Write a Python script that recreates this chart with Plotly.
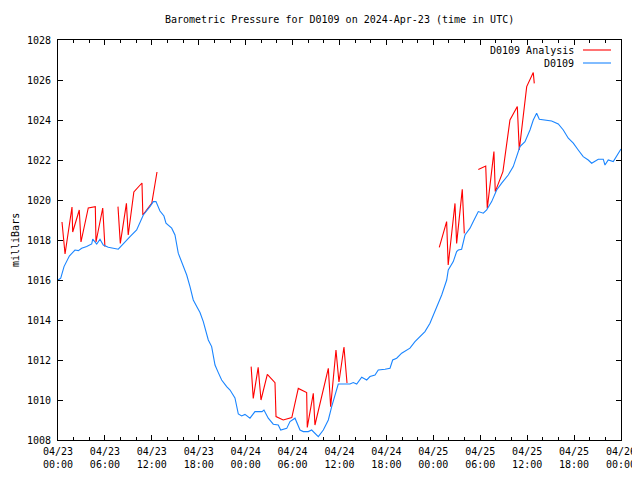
import datetime as dt
import plotly.graph_objects as go

title_text = "Barometric Pressure for D0109 on 2024-Apr-23 (time in UTC)"
y_label = "milliBars"
series_names = ["D0109 Analysis", "D0109"]
start_time = dt.datetime(2024, 4, 23, 0, 0)
end_time = dt.datetime(2024, 4, 26, 0, 0)
y_range = [1008, 1028]

# Observed pressure (hours since 2024-04-23 00:00 UTC, mbar)
obs_hours = [0.00, 0.35, 0.77, 1.45, 2.17, 2.60, 3.03, 3.67, 4.31, 4.44, 4.95, 5.37, 5.79,
             6.43, 7.71, 7.93, 9.21, 10.06, 10.91, 11.76, 12.19, 12.53, 13.04, 13.55, 13.81,
             14.54, 14.96, 15.38, 15.82, 16.46, 16.88, 17.30, 17.74, 18.16, 18.58, 19.22,
             19.65, 20.08, 20.50, 20.93, 21.57, 22.00, 22.63, 23.06, 23.49, 23.91, 24.55,
             25.19, 26.09, 26.34, 26.89, 27.53, 28.17, 28.48, 29.25, 29.67, 30.31, 30.73,
             30.95, 31.37, 32.01, 32.44, 33.29, 33.93, 34.57, 35.00, 35.55, 35.84, 37.34,
             37.76, 38.20, 38.84, 39.48, 39.90, 40.54, 40.96, 41.82, 42.46, 42.80, 43.31,
             43.95, 44.59, 45.01, 45.65, 46.29, 46.93, 47.57, 47.99, 48.43, 49.07, 49.71,
             49.91, 50.55, 50.98, 51.19, 51.62, 52.05, 52.69, 53.11, 53.75, 54.39, 54.82,
             55.46, 56.10, 56.74, 57.58, 58.22, 58.66, 59.08, 59.72, 60.36, 60.78, 61.21,
             61.55, 62.49, 63.13, 63.98, 64.62, 65.26, 65.90, 66.53, 67.17, 67.81, 68.25,
             69.09, 69.73, 69.95, 70.37, 71.01, 71.78, 72.00]
obs_mb = [1016.00, 1016.09, 1016.67, 1017.20, 1017.50, 1017.47, 1017.59, 1017.67, 1017.80,
          1018.04, 1017.80, 1018.04, 1017.75, 1017.64, 1017.54, 1017.64, 1018.17, 1018.50,
          1019.25, 1019.67, 1019.92, 1019.92, 1019.45, 1019.20, 1018.84, 1018.59, 1018.25,
          1017.34, 1016.92, 1016.25, 1015.67, 1015.00, 1014.67, 1014.37, 1013.92, 1013.00,
          1012.67, 1011.75, 1011.37, 1011.00, 1010.67, 1010.50, 1010.10, 1009.30, 1009.20,
          1009.28, 1009.09, 1009.42, 1009.42, 1009.50, 1009.09, 1008.79, 1008.75, 1008.50,
          1008.58, 1008.92, 1009.09, 1008.67, 1008.50, 1008.42, 1008.42, 1008.50, 1008.17,
          1008.50, 1009.00, 1009.67, 1010.34, 1010.80, 1010.80, 1010.87, 1010.80, 1011.14,
          1011.00, 1011.17, 1011.25, 1011.50, 1011.54, 1011.59, 1012.00, 1012.09, 1012.34,
          1012.47, 1012.59, 1012.92, 1013.17, 1013.42, 1013.84, 1014.25, 1014.67, 1015.25,
          1016.00, 1016.50, 1016.92, 1017.42, 1017.50, 1017.54, 1018.25, 1018.59, 1018.92,
          1019.42, 1019.34, 1019.50, 1019.92, 1020.50, 1020.84, 1021.25, 1021.67, 1022.17,
          1022.67, 1022.92, 1023.50, 1024.00, 1024.34, 1024.04, 1024.00, 1023.95, 1023.80,
          1023.50, 1023.09, 1022.84, 1022.50, 1022.17, 1022.00, 1021.84, 1022.04, 1022.04,
          1021.75, 1022.00, 1021.92, 1022.42, 1022.55]

# Analysis pressure (None = gap)
ana_hours = [0.51, 0.90, 1.79, 1.88, 2.72, 2.94, 3.87, 4.77, 4.86, 5.72, 6.00, None,
             7.67, 7.97, 8.75, 8.98, 9.70, 10.74, 10.85, 12.00, 12.66, None,
             24.70, 24.97, 25.60, 25.96, 26.77, 27.75, 27.88, 28.80, 29.90, 30.73, 31.80,
             31.88, 32.65, 32.86, 34.57, 34.87, 35.55, 35.93, 36.57, 36.96, None,
             48.76, 49.70, 49.90, 50.77, 50.98, 51.70, 51.96, None,
             53.75, 54.70, 54.90, 55.75, 55.92, 56.90, 57.80, 58.74, 58.99, 59.94, 60.78, 60.91]
ana_mb = [1018.90, 1017.30, 1019.65, 1018.40, 1019.50, 1017.90, 1019.60, 1019.67, 1017.90,
          1019.60, 1017.67, None,
          1019.67, 1017.83, 1019.83, 1018.25, 1020.40, 1020.85, 1019.25, 1019.85, 1021.40, None,
          1011.67, 1010.08, 1011.63, 1010.00, 1011.28, 1010.87, 1009.17, 1009.00, 1009.12,
          1010.58, 1010.37, 1008.63, 1010.33, 1008.75, 1011.58, 1009.67, 1012.50, 1010.90,
          1012.65, 1010.85, None,
          1017.63, 1018.92, 1016.75, 1019.83, 1017.83, 1020.53, 1018.33, None,
          1021.53, 1021.70, 1019.58, 1022.42, 1020.42, 1021.42, 1024.00, 1024.67, 1022.50,
          1025.67, 1026.37, 1025.83]

red = "#ff0000"
blue = "#1a85ff"
font_family = "DejaVu Sans Mono"


def to_time(hours):
    return [None if h is None else start_time + dt.timedelta(hours=h) for h in hours]


fig = go.Figure()
fig.add_trace(go.Scatter(x=to_time(ana_hours), y=ana_mb, mode="lines", name=series_names[0],
                         line=dict(color=red, width=1.1), connectgaps=False))
fig.add_trace(go.Scatter(x=to_time(obs_hours), y=obs_mb, mode="lines", name=series_names[1],
                         line=dict(color=blue, width=1.1)))

axis_common = dict(showline=True, linecolor="black", linewidth=1, mirror="allticks",
                   ticks="inside", ticklen=5, tickcolor="black", tickwidth=1,
                   showgrid=False, zeroline=False, automargin=False,
                   tickfont=dict(family=font_family, size=10, color="black"))

fig.update_xaxes(type="date", range=[start_time, end_time], dtick=6 * 3600000,
                 tick0=start_time, tickformat="%m/%d<br>%H:%M",
                 minor=dict(dtick=2 * 3600000, ticks="inside", ticklen=3,
                            tickcolor="black", showgrid=False),
                 ticklabelstandoff=2, **axis_common)
fig.update_yaxes(range=y_range, dtick=2, ticklabelstandoff=4, **axis_common)

annotations = [
    dict(text=title_text, xref="paper", yref="paper", x=0.5, y=(440 - 19) / 400,
         xanchor="center", yanchor="middle", showarrow=False,
         font=dict(family=font_family, size=10, color="black")),
    dict(text=y_label, xref="paper", yref="paper", x=(15 - 58) / 563, y=0.5,
         textangle=-90, xanchor="center", yanchor="middle", showarrow=False,
         font=dict(family=font_family, size=10, color="black")),
]
shapes = []
for i, (nm, col) in enumerate(zip(series_names, [red, blue])):
    ypos = (440 - (50 + 13 * i)) / 400
    annotations.append(dict(text=nm, xref="paper", yref="paper", x=(576 - 58) / 563, y=ypos,
                            xanchor="right", yanchor="middle", showarrow=False,
                            font=dict(family=font_family, size=10, color="black")))
    shapes.append(dict(type="line", xref="paper", yref="paper",
                       x0=(583 - 58) / 563, x1=(611 - 58) / 563, y0=ypos, y1=ypos,
                       line=dict(color=col, width=1.1)))

# page body has an 8px margin, so offset the plot area to land at x 58..621, y 40..440
fig.update_layout(width=640, height=480, autosize=False,
                  margin=dict(l=50, r=27, t=32, b=48, autoexpand=False),
                  paper_bgcolor="white", plot_bgcolor="white",
                  showlegend=False, annotations=annotations, shapes=shapes,
                  font=dict(family=font_family, size=10, color="black"))

fig.write_html("out.html")
